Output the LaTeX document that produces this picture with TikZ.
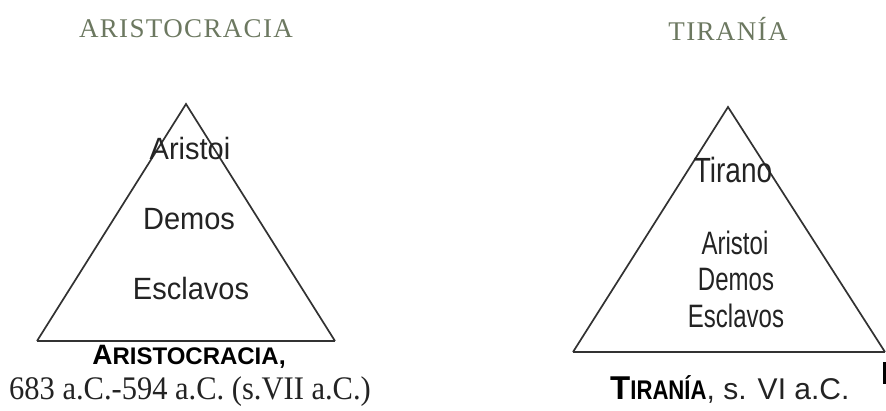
\documentclass[tikz,border=0pt]{standalone}
\usepackage{graphicx}
\usepackage{fontspec}
\setmainfont{Liberation Serif}
\newfontfamily\headfont[LetterSpace=5]{Liberation Serif}
\newfontfamily\arialfont{Liberation Sans}
\definecolor{headcol}{RGB}{108,120,96}
\definecolor{linecol}{RGB}{50,50,50}
\definecolor{txtcol}{RGB}{35,35,35}
\tikzset{
  header/.style={inner sep=0pt, text=headcol, font=\headfont\fontsize{27}{27}\selectfont},
  tri/.style={draw=linecol, line width=1.7pt, line join=miter},
  basel/.style={draw=linecol, line width=2.8pt},
  lvl/.style={inner sep=0pt, text=txtcol, font=\arialfont\fontsize{29}{29}\selectfont},
  lvlsmall/.style={inner sep=0pt, text=txtcol, font=\arialfont\fontsize{24}{24}\selectfont},
  caplabel/.style={inner sep=0pt, text=black, font=\arialfont\bfseries},
  datelabel/.style={inner sep=0pt, text=txtcol, font=\fontsize{30.5}{30.5}\selectfont},
}
\begin{document}
\begin{tikzpicture}[x=1pt,y=-1pt]
\useasboundingbox (0,0) rectangle (886,410);
\fill[white] (0,0) rectangle (886,410);
% headers
\node[header] (h1) at (186,29) {ARISTOCRACIA};
\node[header] (h2) at (728,29) {TIRANÍA};
% left triangle
\coordinate (la) at (186,104);
\coordinate (lb) at (37,341);
\coordinate (lc) at (335,341);
\draw[tri] (lb) -- (la) -- (lc);
\draw[basel] (lb) -- (lc);
\node[lvl] (l1) at (190,149) {\scalebox{1}[1.06]{Aristoi}};
\node[lvl] (l2) at (189,219) {\scalebox{1}[1.06]{Demos}};
\node[lvl] (l3) at (191,289) {\scalebox{1}[1.06]{Esclavos}};
% right triangle
\coordinate (ra) at (728,107);
\coordinate (rb) at (573,352);
\coordinate (rc) at (885,352);
\draw[tri] (rb) -- (ra) -- (rc);
\draw[basel] (rb) -- (rc);
\node[lvl, font=\arialfont\fontsize{28}{28}\selectfont] (r0) at (733,170) {\scalebox{1}[1.25]{Tirano}};
\node[lvlsmall] (r1) at (735,243) {\scalebox{1}[1.35]{Aristoi}};
\node[lvlsmall] (r2) at (736,280) {\scalebox{1}[1.35]{Demos}};
\node[lvlsmall] (r3) at (736,316) {\scalebox{1}[1.35]{Esclavos}};
% bottom labels
\node[caplabel] (lab1) at (189,357) {{\fontsize{28}{28}\selectfont A}{\fontsize{24}{24}\selectfont RISTOCRACIA}{\fontsize{25}{25}\selectfont ,}};
\node[datelabel] (date1) at (190,392) {\scalebox{1}[1.08]{683 a.C.-594 a.C. (s.VII a.C.)}};
\node[inner sep=0pt, text=txtcol, anchor=west] (lab2) at (610,389) {{\arialfont\bfseries\color{black}{\fontsize{33}{33}\selectfont T}\scalebox{0.82}[1]{\fontsize{27}{27}\selectfont IRANÍA}}{\arialfont\fontsize{30}{30}\selectfont , s. VI a.C.}};
\coordinate (m1) at (884,362);
\coordinate (m2) at (884,384);
\draw[black, line width=3pt] (m1) -- (m2);
\end{tikzpicture}
\end{document}
